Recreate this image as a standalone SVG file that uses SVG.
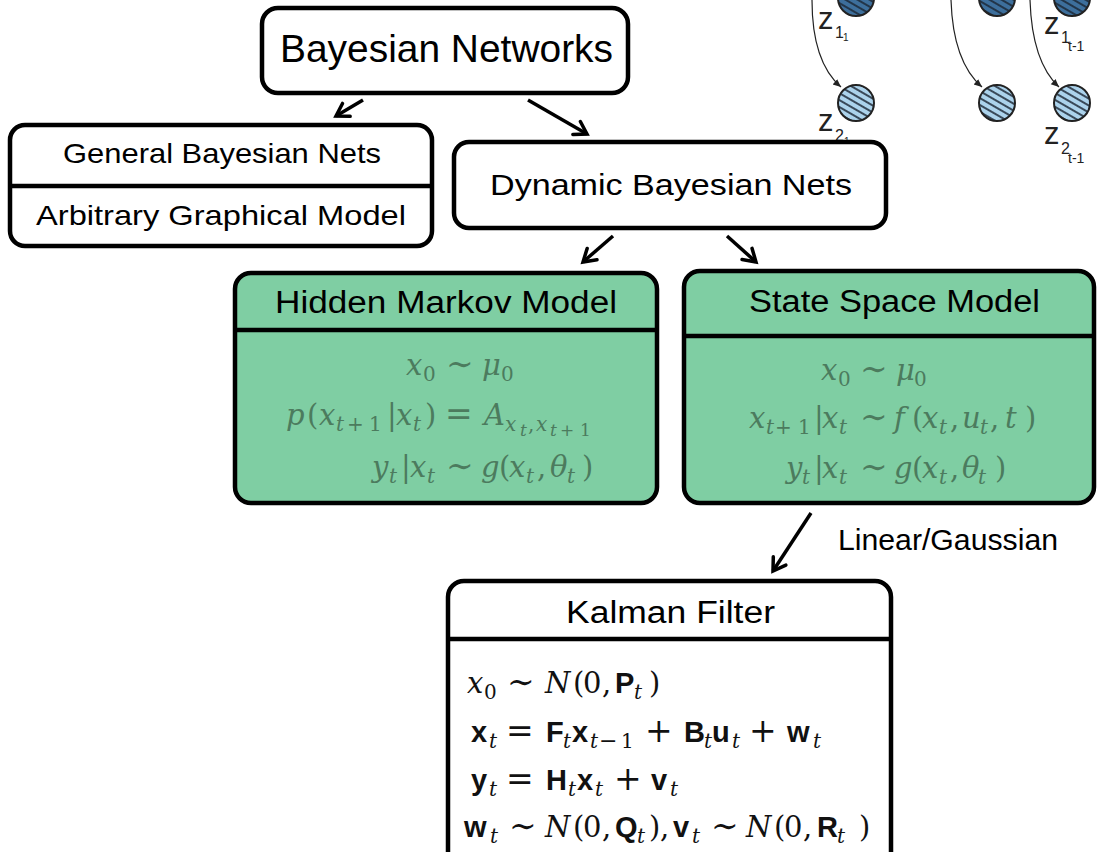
<svg xmlns="http://www.w3.org/2000/svg" width="1097" height="852" viewBox="0 0 1097 852">
<style>
.box{fill:#fff;stroke:#000;stroke-width:4.5}
.gbox{fill:#7fcea3;stroke:#000;stroke-width:4.5}
.div{stroke:#000;stroke-width:4.5}
.lbl{font-family:"Liberation Sans",Arial,sans-serif;fill:#000;text-anchor:middle}
.mt{font-family:"DejaVu Serif","Liberation Serif",serif;font-size:29px;fill:#4c7b5e}
.k{fill:#111}
.i{font-style:italic}
.s{font-size:20px}
.ss{font-size:17px}
.r{font-size:33px}
.b{font-family:"Liberation Sans",Arial,sans-serif;font-weight:bold;font-size:29px}
.conn{stroke:#000;stroke-width:3.5;fill:none;marker-end:url(#ah)}
.thin{stroke:#222;stroke-width:1.2;fill:none;marker-end:url(#sah)}
.zl{font-family:"Liberation Sans",Arial,sans-serif;fill:#222}
.dk{fill:url(#hd);stroke:#222;stroke-width:2}
.lt{fill:url(#hl);stroke:#222;stroke-width:2}
</style>
<defs>
<marker id="ah" markerUnits="userSpaceOnUse" markerWidth="22" markerHeight="22" refX="16" refY="11" orient="auto">
<path d="M4,3.5 L16,11 L4,18.5" fill="none" stroke="#000" stroke-width="3.5" stroke-linecap="round" stroke-linejoin="miter"/>
</marker>
<marker id="sah" markerUnits="userSpaceOnUse" markerWidth="10" markerHeight="10" refX="8" refY="5" orient="auto">
<path d="M0,1.5 L8,5 L0,8.5 z" fill="#222"/>
</marker>
<pattern id="hd" patternUnits="userSpaceOnUse" width="6" height="6" patternTransform="rotate(30)">
<rect width="6" height="6" fill="#3d6f9c"/>
<line x1="0" y1="3" x2="6" y2="3" stroke="#1b2633" stroke-width="1.6"/>
</pattern>
<pattern id="hl" patternUnits="userSpaceOnUse" width="6" height="6" patternTransform="rotate(30)">
<rect width="6" height="6" fill="#acd3ec"/>
<line x1="0" y1="3" x2="6" y2="3" stroke="#1b2633" stroke-width="1.6"/>
</pattern>
</defs>

<g id="dbn-sketch">
<circle class="dk" cx="856" cy="-2" r="18"/>
<circle class="dk" cx="997" cy="-2" r="18"/>
<circle class="dk" cx="1072" cy="-2" r="18"/>
<circle class="lt" cx="856" cy="103" r="18"/>
<circle class="lt" cx="997" cy="103" r="18"/>
<circle class="lt" cx="1072" cy="103" r="18"/>
<path class="thin" d="M812,0 Q812,62 841,87"/>
<path class="thin" d="M951,0 Q953,62 982,87"/>
<path class="thin" d="M1030,0 Q1032,62 1059,87"/>
<text class="zl" x="818" y="29" font-size="31">z</text>
<text class="zl" x="835" y="38" font-size="16">1</text>
<text class="zl" x="843" y="41" font-size="10">1</text>
<text class="zl" x="818" y="131" font-size="31">z</text>
<text class="zl" x="835" y="141" font-size="16">2</text>
<text class="zl" x="844" y="145" font-size="10">1</text>
<text class="zl" x="1044" y="34" font-size="31">z</text>
<text class="zl" x="1061" y="43" font-size="16">1</text>
<text class="zl" x="1068" y="51" font-size="14">t-1</text>
<text class="zl" x="1044" y="144" font-size="31">z</text>
<text class="zl" x="1061" y="154" font-size="16">2</text>
<text class="zl" x="1068" y="163" font-size="14">t-1</text>
</g>

<g id="connectors">
<line class="conn" x1="363" y1="100" x2="336" y2="116"/>
<line class="conn" x1="528" y1="100" x2="587" y2="134"/>
<line class="conn" x1="613" y1="236" x2="583" y2="262"/>
<line class="conn" x1="727" y1="236" x2="756" y2="262"/>
<line class="conn" x1="811" y1="513" x2="773" y2="571"/>
<text class="lbl" x="948" y="550" font-size="29" textLength="220" lengthAdjust="spacingAndGlyphs">Linear/Gaussian</text>
</g>

<g id="bayesian-networks">
<rect class="box" x="262" y="8" width="366" height="85" rx="16"/>
<text class="lbl" x="446.5" y="62" font-size="39" textLength="333" lengthAdjust="spacingAndGlyphs">Bayesian Networks</text>
</g>

<g id="general-bayesian-nets">
<rect class="box" x="10" y="125" width="422" height="121" rx="15"/>
<line class="div" x1="10" y1="186" x2="432" y2="186"/>
<text class="lbl" x="222" y="163" font-size="28" textLength="318" lengthAdjust="spacingAndGlyphs">General Bayesian Nets</text>
<text class="lbl" x="221" y="225" font-size="28" textLength="370" lengthAdjust="spacingAndGlyphs">Arbitrary Graphical Model</text>
</g>

<g id="dynamic-bayesian-nets">
<rect class="box" x="454" y="142" width="432" height="86" rx="15"/>
<text class="lbl" x="671" y="195" font-size="30" textLength="362" lengthAdjust="spacingAndGlyphs">Dynamic Bayesian Nets</text>
</g>

<g id="hidden-markov-model">
<rect class="gbox" x="235" y="273" width="422" height="230" rx="16"/>
<line class="div" x1="235" y1="330" x2="657" y2="330"/>
<text class="lbl" x="446" y="313" font-size="31" textLength="342" lengthAdjust="spacingAndGlyphs">Hidden Markov Model</text>
<text class="mt" y="375"><tspan x="406" class="i">x</tspan><tspan x="423" y="381" class="s">0</tspan><tspan x="446" y="375" class="r">∼</tspan><tspan x="482" class="i">μ</tspan><tspan x="501" y="381" class="s">0</tspan></text>
<text class="mt" y="425"><tspan x="286" class="i">p</tspan><tspan x="307">(</tspan><tspan x="319" class="i">x</tspan><tspan x="336" y="431" class="i s">t</tspan><tspan x="347" y="431" class="s">+</tspan><tspan x="369" y="431" class="s">1</tspan><tspan x="387" y="425">|</tspan><tspan x="396" class="i">x</tspan><tspan x="413" y="431" class="i s">t</tspan><tspan x="425" y="425">)</tspan><tspan x="445" class="r">=</tspan><tspan x="484" class="i">A</tspan><tspan x="505" y="431" class="i s">x</tspan><tspan x="520" y="436" class="i ss">t</tspan><tspan x="528" y="431" class="s">,</tspan><tspan x="536" class="i s">x</tspan><tspan x="550" y="436" class="i ss">t</tspan><tspan x="560" y="436" class="ss">+</tspan><tspan x="580" y="436" class="ss">1</tspan></text>
<text class="mt" y="477"><tspan x="372" class="i">y</tspan><tspan x="389" y="483" class="i s">t</tspan><tspan x="401" y="477">|</tspan><tspan x="410" class="i">x</tspan><tspan x="427" y="483" class="i s">t</tspan><tspan x="446" y="477" class="r">∼</tspan><tspan x="481" class="i">g</tspan><tspan x="499">(</tspan><tspan x="509" class="i">x</tspan><tspan x="526" y="483" class="i s">t</tspan><tspan x="537" y="477">,</tspan><tspan x="550" class="i">θ</tspan><tspan x="567" y="483" class="i s">t</tspan><tspan x="582" y="477">)</tspan></text>
</g>

<g id="state-space-model">
<rect class="gbox" x="684" y="271" width="410" height="232" rx="16"/>
<line class="div" x1="684" y1="336" x2="1094" y2="336"/>
<text class="lbl" x="894.5" y="312" font-size="31" textLength="291" lengthAdjust="spacingAndGlyphs">State Space Model</text>
<text class="mt" y="380"><tspan x="821" class="i">x</tspan><tspan x="838" y="386" class="s">0</tspan><tspan x="860" y="380" class="r">∼</tspan><tspan x="896" class="i">μ</tspan><tspan x="914" y="386" class="s">0</tspan></text>
<text class="mt" y="428"><tspan x="749" class="i">x</tspan><tspan x="766" y="434" class="i s">t</tspan><tspan x="775" y="434" class="s">+</tspan><tspan x="798" y="434" class="s">1</tspan><tspan x="814" y="428">|</tspan><tspan x="822" class="i">x</tspan><tspan x="839" y="434" class="i s">t</tspan><tspan x="860" y="428" class="r">∼</tspan><tspan x="894" class="i">f</tspan><tspan x="912">(</tspan><tspan x="922" class="i">x</tspan><tspan x="939" y="434" class="i s">t</tspan><tspan x="950" y="428">,</tspan><tspan x="962" class="i">u</tspan><tspan x="980" y="434" class="i s">t</tspan><tspan x="990" y="428">,</tspan><tspan x="1005" class="i">t</tspan><tspan x="1025">)</tspan></text>
<text class="mt" y="478"><tspan x="786" class="i">y</tspan><tspan x="802" y="484" class="i s">t</tspan><tspan x="814" y="478">|</tspan><tspan x="822" class="i">x</tspan><tspan x="839" y="484" class="i s">t</tspan><tspan x="860" y="478" class="r">∼</tspan><tspan x="894" class="i">g</tspan><tspan x="912">(</tspan><tspan x="922" class="i">x</tspan><tspan x="939" y="484" class="i s">t</tspan><tspan x="950" y="478">,</tspan><tspan x="962" class="i">θ</tspan><tspan x="978" y="484" class="i s">t</tspan><tspan x="995" y="478">)</tspan></text>
</g>

<g id="kalman-filter">
<rect class="box" x="448" y="581" width="443" height="300" rx="16"/>
<line class="div" x1="448" y1="639" x2="891" y2="639"/>
<text class="lbl" x="670.5" y="623" font-size="31" textLength="209" lengthAdjust="spacingAndGlyphs">Kalman Filter</text>
<text class="mt k" y="693"><tspan x="467" class="i">x</tspan><tspan x="484" y="699" class="s">0</tspan><tspan x="507" y="693" class="r">∼</tspan><tspan x="545" class="i">N</tspan><tspan x="573">(</tspan><tspan x="583">0</tspan><tspan x="602">,</tspan><tspan x="615" class="b">P</tspan><tspan x="634" y="699" class="i s">t</tspan><tspan x="649" y="693">)</tspan></text>
<text class="mt k" y="742"><tspan x="471" class="b">x</tspan><tspan x="489" y="748" class="i s">t</tspan><tspan x="506" y="742" class="r">=</tspan><tspan x="546" class="b">F</tspan><tspan x="563" y="748" class="i s">t</tspan><tspan x="572" y="742" class="b">x</tspan><tspan x="590" y="748" class="i s">t</tspan><tspan x="599" y="748" font-size="22">−</tspan><tspan x="621" y="748" class="s">1</tspan><tspan x="645" y="742" class="r">+</tspan><tspan x="684" class="b">B</tspan><tspan x="704" y="748" class="i s">t</tspan><tspan x="712" y="742" class="b">u</tspan><tspan x="732" y="748" class="i s">t</tspan><tspan x="749" y="742" class="r">+</tspan><tspan x="787" class="b">w</tspan><tspan x="813" y="748" class="i s">t</tspan></text>
<text class="mt k" y="790"><tspan x="471" class="b">y</tspan><tspan x="489" y="796" class="i s">t</tspan><tspan x="506" y="790" class="r">=</tspan><tspan x="546" class="b">H</tspan><tspan x="568" y="796" class="i s">t</tspan><tspan x="577" y="790" class="b">x</tspan><tspan x="595" y="796" class="i s">t</tspan><tspan x="614" y="790" class="r">+</tspan><tspan x="651" class="b">v</tspan><tspan x="670" y="796" class="i s">t</tspan></text>
<text class="mt k" y="837"><tspan x="464" class="b">w</tspan><tspan x="490" y="843" class="i s">t</tspan><tspan x="509" y="837" class="r">∼</tspan><tspan x="545" class="i">N</tspan><tspan x="573">(</tspan><tspan x="583">0</tspan><tspan x="602">,</tspan><tspan x="615" class="b">Q</tspan><tspan x="637" y="843" class="i s">t</tspan><tspan x="649" y="837">)</tspan><tspan x="660">,</tspan><tspan x="673" class="b">v</tspan><tspan x="692" y="843" class="i s">t</tspan><tspan x="711" y="837" class="r">∼</tspan><tspan x="746" class="i">N</tspan><tspan x="774">(</tspan><tspan x="784">0</tspan><tspan x="803">,</tspan><tspan x="817" class="b">R</tspan><tspan x="837" y="843" class="i s">t</tspan><tspan x="859" y="837">)</tspan></text>
</g>
</svg>
